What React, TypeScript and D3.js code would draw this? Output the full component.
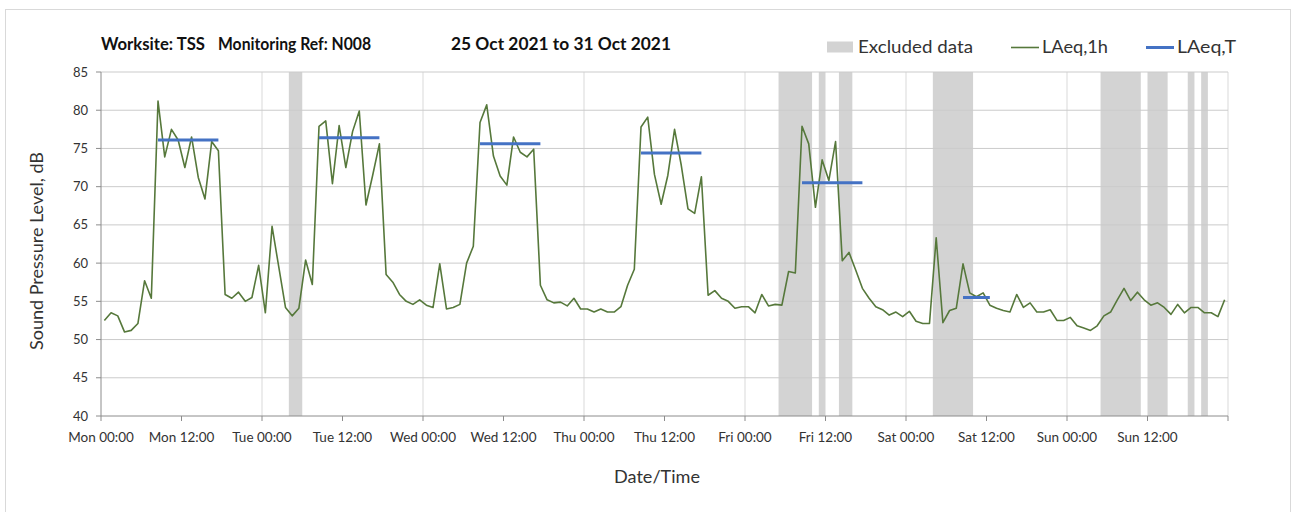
import React from "react";
import * as d3 from "d3";

const hourlyLAeq: number[] = [
  // Mon
  52.5, 53.5, 53.1, 51.0, 51.2, 52.1, 57.7, 55.4, 81.2, 73.9, 77.5, 76.1, 72.5, 76.5, 71.2, 68.4, 75.9, 74.7, 55.9, 55.4, 56.2, 55.0, 55.5, 59.7,
  // Tue
  53.5, 64.8, 59.5, 54.2, 53.1, 54.1, 60.4, 57.2, 77.9, 78.6, 70.4, 78.0, 72.5, 77.2, 79.9, 67.6, 71.5, 75.6, 58.5, 57.5, 55.9, 55.0, 54.6, 55.2,
  // Wed
  54.5, 54.2, 59.9, 54.0, 54.2, 54.6, 60.0, 62.2, 78.4, 80.7, 74.0, 71.4, 70.2, 76.5, 74.5, 73.9, 74.9, 57.1, 55.2, 54.8, 54.9, 54.4, 55.4, 54.0,
  // Thu
  54.0, 53.6, 54.0, 53.6, 53.6, 54.3, 57.1, 59.2, 77.8, 79.1, 71.6, 67.7, 71.5, 77.5, 72.8, 67.1, 66.5, 71.3, 55.8, 56.4, 55.4, 55.0, 54.1, 54.3,
  // Fri
  54.3, 53.5, 55.9, 54.4, 54.6, 54.5, 58.9, 58.7, 77.9, 75.6, 67.3, 73.5, 70.8, 75.9, 60.3, 61.4, 59.1, 56.7, 55.4, 54.3, 53.9, 53.2, 53.6, 53.0,
  // Sat
  53.7, 52.4, 52.1, 52.1, 63.3, 52.2, 53.8, 54.1, 59.9, 56.1, 55.6, 56.1, 54.5, 54.1, 53.8, 53.6, 55.9, 54.2, 54.8, 53.6, 53.6, 53.9, 52.5, 52.5,
  // Sun
  52.9, 51.8, 51.5, 51.2, 51.8, 53.1, 53.6, 55.2, 56.7, 55.1, 56.2, 55.2, 54.5, 54.8, 54.2, 53.3, 54.6, 53.5, 54.2, 54.2, 53.5, 53.5, 53.0, 55.2,
];

const periodStartHour = [8, 32, 56, 80, 104, 128];
const periodEndHour = [17, 41, 65, 89, 113, 132];
const periodLAeqT = [76.1, 76.4, 75.6, 74.4, 70.5, 55.5];

const excludedStartHour = [28, 101, 107, 110, 124, 149, 156, 162, 164];
const excludedEndHour = [30, 106, 108, 112, 130, 155, 159, 163, 165];

const dayNames = ["Mon", "Tue", "Wed", "Thu", "Fri", "Sat", "Sun"];
const xTickHours = d3.range(0, 169, 12);
const yTicks = [40, 45, 50, 55, 60, 65, 70, 75, 80, 85];

const FONT = "Lato, 'Open Sans', sans-serif";

export default function App() {
  const W = 1301;
  const H = 512;
  const x = d3.scaleLinear().domain([0, 168]).range([101, 1228]);
  const y = d3.scaleLinear().domain([40, 85]).range([416, 72]);

  const line = d3
    .line<number>()
    .x((_, i) => x(i + 0.5))
    .y((d) => y(d));

  const tickLabel = (h: number) => {
    if (h >= 168) return "";
    const day = dayNames[Math.floor(h / 24)];
    const hh = h % 24 === 0 ? "00:00" : "12:00";
    return `${day} ${hh}`;
  };

  return (
    <svg
      width={W}
      height={H}
      style={{ position: "absolute", left: 0, top: 0, display: "block", background: "#fff" }}
    >
      <rect x={5.5} y={9.5} width={1285} height={520} fill="#fff" stroke="#d9d9d9" strokeWidth={1} />

      {/* excluded bands */}
      {excludedStartHour.map((s, i) => (
        <rect
          key={"ex" + i}
          x={x(s)}
          y={y(85)}
          width={x(excludedEndHour[i]) - x(s)}
          height={y(40) - y(85)}
          fill="#d3d3d3"
        />
      ))}

      {/* vertical gridlines */}
      {d3.range(24, 169, 24).map((h) => (
        <line key={"vg" + h} x1={x(h)} x2={x(h)} y1={y(85)} y2={y(40)} stroke="#d9d9d9" strokeWidth={1} />
      ))}
      {/* horizontal gridlines */}
      {yTicks.filter((t) => t > 40).map((t) => (
        <line key={"hg" + t} x1={x(0)} x2={x(168)} y1={y(t)} y2={y(t)} stroke="#cbcbcb" strokeWidth={1} />
      ))}

      {/* axes */}
      <line x1={x(0)} x2={x(0)} y1={y(85)} y2={y(40)} stroke="#8c8c8c" strokeWidth={1} />
      <line x1={x(0)} x2={x(168)} y1={y(40)} y2={y(40)} stroke="#8c8c8c" strokeWidth={1} />
      {yTicks.map((t) => (
        <g key={"yt" + t}>
          <line x1={x(0) - 5} x2={x(0)} y1={y(t)} y2={y(t)} stroke="#8c8c8c" />
          <text x={88} y={y(t)} dy="0.35em" textAnchor="end" fontFamily={FONT} fontSize={13} fill="#333">
            {t}
          </text>
        </g>
      ))}
      {xTickHours.map((h) => (
        <g key={"xt" + h}>
          <line x1={x(h)} x2={x(h)} y1={y(40)} y2={y(40) + 5} stroke="#8c8c8c" />
          <text x={x(h)} y={442} textAnchor="middle" fontFamily={FONT} fontSize={13.5} fill="#333">
            {tickLabel(h)}
          </text>
        </g>
      ))}

      {/* LAeq,1h line */}
      <path d={line(hourlyLAeq) || ""} fill="none" stroke="#56783b" strokeWidth={1.6} strokeLinejoin="round" />

      {/* LAeq,T segments */}
      {periodStartHour.map((s, i) => (
        <line
          key={"p" + i}
          x1={x(s + 0.5)}
          x2={x(periodEndHour[i] + 0.5)}
          y1={y(periodLAeqT[i])}
          y2={y(periodLAeqT[i])}
          stroke="#4472c4"
          strokeWidth={3}
        />
      ))}

      {/* titles */}
      <g fontFamily={FONT} fontWeight="bold" fontSize={16.5} fill="#111">
        <text x={101} y={50} textLength={104} lengthAdjust="spacingAndGlyphs">Worksite: TSS</text>
        <text x={218} y={50} textLength={153} lengthAdjust="spacingAndGlyphs">Monitoring Ref: N008</text>
        <text x={451} y={50} textLength={220} lengthAdjust="spacingAndGlyphs">25 Oct 2021 to 31 Oct 2021</text>
      </g>

      <text
        transform={`translate(43,251) rotate(-90)`}
        textAnchor="middle"
        fontFamily={FONT}
        fontSize={17.5}
        fill="#333"
        textLength={198}
        lengthAdjust="spacingAndGlyphs"
      >
        Sound Pressure Level, dB
      </text>
      <text
        x={657}
        y={483}
        textAnchor="middle"
        fontFamily={FONT}
        fontSize={17.5}
        fill="#333"
        textLength={86}
        lengthAdjust="spacingAndGlyphs"
      >
        Date/Time
      </text>

      {/* legend */}
      <g fontFamily={FONT} fontSize={17.5} fill="#333">
        <rect x={827} y={41.5} width={26} height={11} fill="#d3d3d3" />
        <text x={858} y={53} textLength={115} lengthAdjust="spacingAndGlyphs">Excluded data</text>
        <line x1={1011} x2={1039} y1={47.5} y2={47.5} stroke="#56783b" strokeWidth={1.6} />
        <text x={1042} y={53} textLength={66} lengthAdjust="spacingAndGlyphs">LAeq,1h</text>
        <line x1={1146} x2={1174} y1={47.5} y2={47.5} stroke="#4472c4" strokeWidth={3} />
        <text x={1177} y={53} textLength={59} lengthAdjust="spacingAndGlyphs">LAeq,T</text>
      </g>
    </svg>
  );
}
